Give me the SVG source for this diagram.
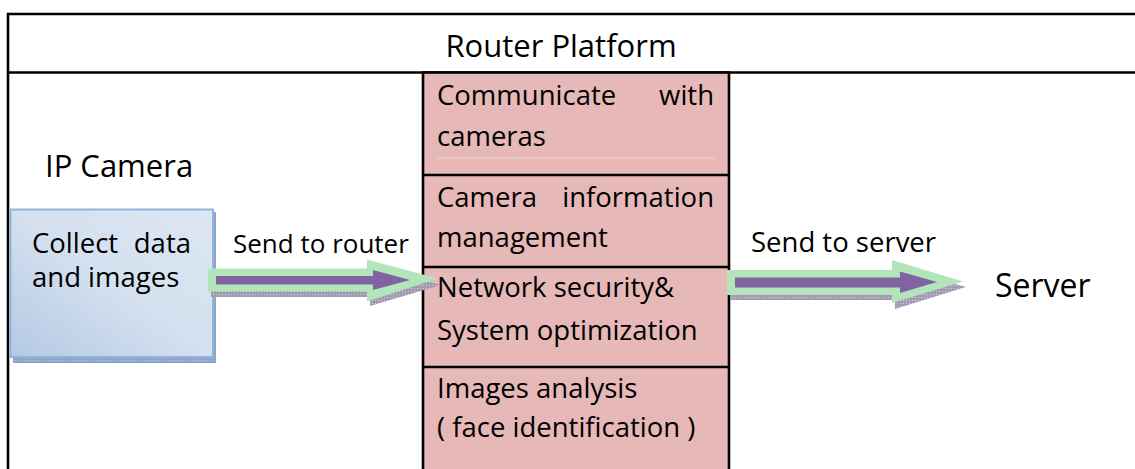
<svg xmlns="http://www.w3.org/2000/svg" width="1135" height="469" viewBox="0 0 1135 469">
  <defs>
    <linearGradient id="camFill" x1="0" y1="1" x2="1" y2="0">
      <stop offset="0" stop-color="#b4c9e4"/>
      <stop offset="0.5" stop-color="#d4e0ef"/>
      <stop offset="1" stop-color="#dde7f3"/>
    </linearGradient>
    <pattern id="dots" width="3" height="3" patternUnits="userSpaceOnUse">
      <rect width="3" height="3" fill="#a39bb2"/>
      <rect width="1" height="1" fill="#d4d0dc"/>
    </pattern>
    <pattern id="dotsBlue" width="3" height="3" patternUnits="userSpaceOnUse">
      <rect width="3" height="3" fill="#8ba6c9"/>
      <rect width="1" height="1" fill="#c3d1e4"/>
    </pattern>
  </defs>
  <style>
    .frame { stroke: #000; stroke-width: 2.6; fill: none; }
    .cell { fill: #e6b8b7; stroke: #000; stroke-width: 2.6; }
    .txt { font-family: "Open Sans", "Noto Sans", sans-serif; font-size: 27.5px; fill: #000; }
    .big { font-size: 31px; }
    .label { font-size: 26px; }
    .outer { fill: #b3e5bb; }
    .inner { fill: #8064a2; }
    .shadow { fill: url(#dots); }
  </style>

  <rect width="1135" height="469" fill="#fff"/>

  <!-- outer frame: title band and left edge -->
  <g id="frame">
    <line class="frame" x1="7" y1="14" x2="1135" y2="14"/>
    <line class="frame" x1="7" y1="72.5" x2="1135" y2="72.5"/>
    <line class="frame" x1="8" y1="13" x2="8" y2="469"/>
    <text class="txt big" x="561" y="57" text-anchor="middle">Router Platform</text>
  </g>

  <!-- router function stack -->
  <g id="router">
    <rect class="cell" x="423" y="72.5" width="306" height="402"/>
    <line class="frame" x1="423" y1="175" x2="729" y2="175"/>
    <line class="frame" x1="423" y1="267" x2="729" y2="267"/>
    <line class="frame" x1="423" y1="367" x2="729" y2="367"/>
    <line x1="437" y1="158" x2="715" y2="158" stroke="#f1d6d5" stroke-width="1"/>
  </g>

  <g id="cell-communicate">
    <text class="txt" x="437" y="105">Communicate</text>
    <text class="txt" x="714" y="105" text-anchor="end">with</text>
    <text class="txt" x="437" y="146">cameras</text>
  </g>
  <g id="cell-info">
    <text class="txt" x="437" y="207">Camera</text>
    <text class="txt" x="714" y="207" text-anchor="end">information</text>
    <text class="txt" x="437" y="247">management</text>
  </g>
  <g id="cell-security">
    <text class="txt" x="437" y="297">Network security&amp;</text>
    <text class="txt" x="437" y="340">System optimization</text>
  </g>
  <g id="cell-analysis">
    <text class="txt" x="437" y="398">Images analysis</text>
    <text class="txt" x="437" y="437">( face identification )</text>
  </g>

  <!-- camera -->
  <g id="camera">
    <text class="txt big" x="45" y="177">IP Camera</text>
    <rect x="13" y="212" width="203" height="151" fill="url(#dotsBlue)"/>
    <rect x="10.5" y="209.5" width="202.5" height="147.5" fill="url(#camFill)" stroke="#95b3d7" stroke-width="2"/>
    <text class="txt" x="32" y="253">Collect</text>
    <text class="txt" x="191" y="253" text-anchor="end">data</text>
    <text class="txt" x="32" y="287">and images</text>
  </g>

  <!-- server -->
  <g id="server">
    <text class="txt" x="995" y="297" style="font-size:32px">Server</text>
  </g>

  <!-- connectors -->
  <g id="connectors">
    <g id="to-router">
      <polygon class="shadow" points="211,274 370,274 370,266 441,285 370,306 370,297 211,297"/>
      <polygon class="outer" points="208,268.5 367,268.5 367,259.5 438,278.5 367,301.5 367,291.5 208,291.5"/>
      <polygon class="inner" points="216,276 373,276 373,270 410,280 373,290 373,284.5 216,284.5"/>
      <text class="txt label" x="233" y="253">Send to router</text>
    </g>
    <g id="to-server">
      <polygon class="shadow" points="730,276 895,276 895,267 966,287 895,309 895,300 730,300"/>
      <polygon class="outer" points="727,270 892,270 892,260 963,281.5 892,303 892,295 727,295"/>
      <polygon class="inner" points="735,277.5 900,277.5 900,271.5 937,282 900,293 900,287.5 735,287.5"/>
      <text class="txt" x="751" y="252">Send to server</text>
    </g>
  </g>
</svg>
